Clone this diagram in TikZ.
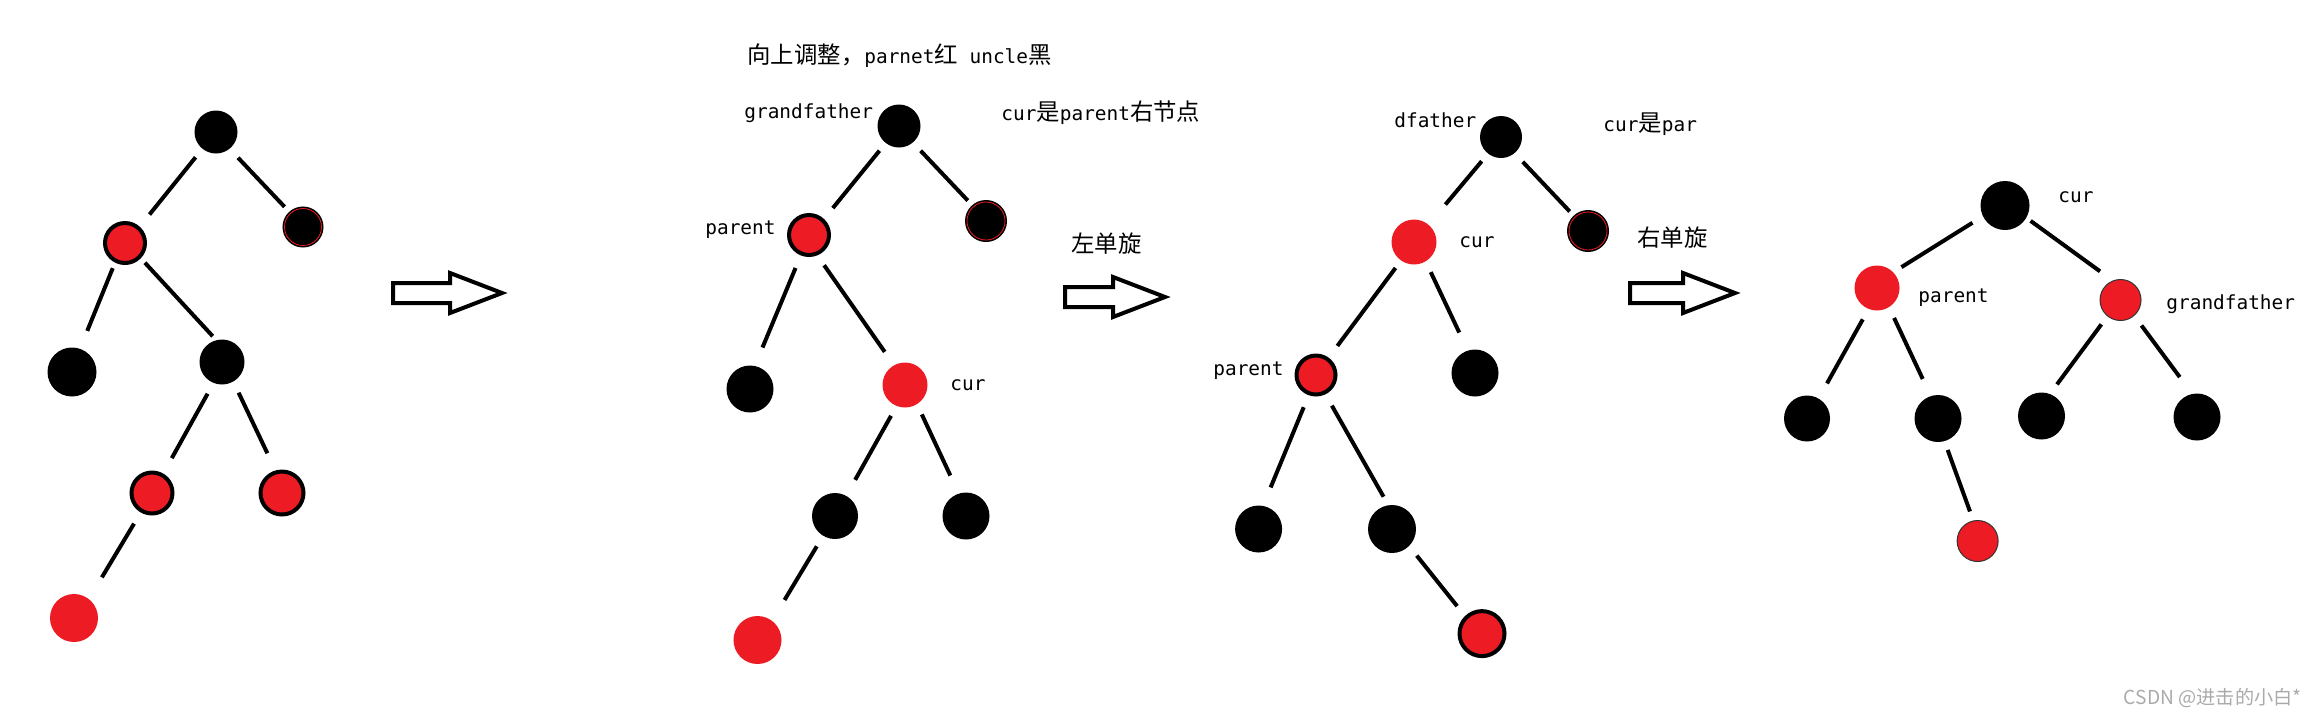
\documentclass[tikz,border=0pt]{standalone}
\usepackage{fontspec}
\usepackage{tikz}
\newfontfamily\cjkfont{Noto Sans CJK SC}
\newfontfamily\latfont[Scale=0.83]{DejaVu Sans Mono}
\definecolor{paintred}{RGB}{237,28,36}
\definecolor{markgray}{RGB}{170,170,170}

\begin{document}
\begin{tikzpicture}[x=0.5pt,y=-0.5pt,
	blk/.style={circle,fill=black,inner sep=0pt,minimum size=22pt},
	rd/.style={circle,fill=paintred,inner sep=0pt,minimum size=23pt},
	rdring/.style={circle,fill=paintred,draw=black,line width=2pt,inner sep=0pt,minimum size=20.5pt},
	rdthin/.style={circle,fill=paintred,draw=black!80,line width=0.5pt,inner sep=0pt,minimum size=20.5pt},
	blkring/.style={circle,fill=black,draw=black,line width=0.8pt,double=paintred,double distance=0.4pt,inner sep=0pt,minimum size=18.5pt},
	branch/.style={line width=2pt},
	lbl/.style={font=\latfont\fontsize{11.7}{14}\selectfont,inner sep=0pt,anchor=mid west},
	zhlbl/.style={font=\cjkfont\fontsize{11.7}{14}\selectfont,inner sep=0pt,anchor=west},
	bigarrow/.style={draw=black,line width=2pt,line join=miter,fill=white}
	]
	\useasboundingbox (0,0) rectangle (2316,719);

	\node (r1) [blk,minimum size=21.5pt] at (216,132) {};
	\node (a1) [rdring,minimum size=20pt] at (125,243) {};
	\node (u1) [blkring] at (303,227) {};
	\node (l1) [blk,minimum size=24.5pt] at (72,372) {};
	\node (m1) [blk,minimum size=22.5pt] at (222,362) {};
	\node (b1) [rdring] at (152,493) {};
	\node (c1) [rdring,minimum size=21.5pt] at (282,493) {};
	\node (d1) [rd,minimum size=24pt] at (74,618) {};
	\foreach \u/\a/\v/\b/\s/\t in {r1/-129/a1/48/5.3pt/7.8pt, r1/-51/u1/132/6pt/4pt,
		a1/-117/l1/71/3pt/9.5pt, a1/-44/m1/105/3pt/2.5pt, m1/-112/b1/60/6pt/8.8pt,
		m1/-60/c1/106/6pt/9.5pt, b1/-120/d1/52/6.5pt/12.5pt}
		\draw[branch,shorten <=\s,shorten >=\t] (\u.\a) -- (\v.\b);

	\node (t0) [lbl] at (747,59) {{\cjkfont 向上调整，}parnet{\cjkfont 红} uncle{\cjkfont 黑}};
	\node (r2) [blk,minimum size=21.5pt] at (899,126) {};
	\node (t1) [lbl] at (744,114) {grandfather};
	\node (t2) [lbl] at (1001,116) {cur{\cjkfont 是}parent{\cjkfont 右节点}};
	\node (p2) [rdring,minimum size=20pt] at (809,235) {};
	\node (t3) [lbl] at (705,230) {parent};
	\node (u2) [blkring,minimum size=19pt] at (986,221) {};
	\node (l2) [blk,minimum size=23.5pt] at (750,389) {};
	\node (c2) [rd,minimum size=22.5pt] at (905,385) {};
	\node (t4) [lbl] at (950,386) {cur};
	\node (x2) [blk,minimum size=23pt] at (835,516) {};
	\node (y2) [blk,minimum size=23.5pt] at (966,516) {};
	\node (d2) [rd,minimum size=24pt] at (757.5,640) {};
	\foreach \u/\a/\v/\b/\s/\t in {r2/-128/p2/47/4.8pt/7pt, r2/-50/u2/131/5.5pt/3.8pt,
		p2/-112/l2/78/6.8pt/9.8pt, p2/-68/c2/119/6pt/8pt, c2/-112/x2/61/5.5pt/9pt,
		c2/-58/y2/108/5.5pt/9.8pt, x2/-121/d2/53/6pt/12pt}
		\draw[branch,shorten <=\s,shorten >=\t] (\u.\a) -- (\v.\b);
	\node (t5) [zhlbl] at (1071,244) {左单旋};

	\node (r3) [blk,minimum size=21pt] at (1501,137) {};
	\node (t6) [lbl] at (1394,123.5) {dfather};
	\node (t7) [lbl] at (1603,127) {cur{\cjkfont 是}par};
	\node (c3) [rd,minimum size=22.5pt] at (1414,242) {};
	\node (t8) [lbl] at (1459,243) {cur};
	\node (u3) [blkring,minimum size=19pt] at (1588,231) {};
	\node (p3) [rdring,minimum size=19.5pt] at (1316,375) {};
	\node (t9) [lbl] at (1213,371) {parent};
	\node (k3) [blk,minimum size=23.5pt] at (1475,373) {};
	\node (l3) [blk,minimum size=23.5pt] at (1258.6,529) {};
	\node (m3) [blk,minimum size=24pt] at (1392,529) {};
	\node (d3) [rdring,minimum size=22.5pt] at (1482,633.6) {};
	\foreach \u/\a/\v/\b/\s/\t in {r3/-128/c3/50/4.8pt/13pt, r3/-50/u3/133/5.8pt/3.5pt,
		c3/-125/p3/54/4.5pt/7.3pt, c3/-59/k3/108/5.8pt/9.8pt, p3/-110/l3/79/6.5pt/9.8pt,
		p3/-64/m3/99/6.5pt/4.7pt, m3/-45/d3/134/6pt/6.3pt}
		\draw[branch,shorten <=\s,shorten >=\t] (\u.\a) -- (\v.\b);
	\node (t10) [zhlbl] at (1637,238) {右单旋};

	\node (r4) [blk,minimum size=24.5pt] at (2005,205.5) {};
	\node (t11) [lbl] at (2058,198) {cur};
	\node (p4) [rd,minimum size=22.5pt] at (1877,288) {};
	\node (t12) [lbl] at (1918,298) {parent};
	\node (g4) [rdthin] at (2120.5,300) {};
	\node (t13) [lbl] at (2166,305) {grandfather};
	\node (e1) [blk,minimum size=23pt] at (1807,418.5) {};
	\node (e2) [blk,minimum size=23.5pt] at (1938,418.5) {};
	\node (e3) [blk,minimum size=23.5pt] at (2041.5,416) {};
	\node (e4) [blk,minimum size=23.5pt] at (2197,417) {};
	\node (d4) [rdthin] at (1977.6,541) {};
	\foreach \u/\a/\v/\b/\s/\t in {r4/-154/p4/44/6pt/4.7pt, r4/-30/g4/112/2.5pt/7.8pt,
		p4/-112/e1/60/5.8pt/8.5pt, p4/-58/e2/108/5.8pt/9.3pt, g4/-129/e3/69/5pt/5.8pt,
		g4/-49/e4/102/6pt/10.3pt, e2/-74/d4/102/4.5pt/4.8pt}
		\draw[branch,shorten <=\s,shorten >=\t] (\u.\a) -- (\v.\b);

	\foreach \x/\y/\l in {393/293/109, 1065/297/100, 1630/293/105}
		\draw[bigarrow] (\x,\y-10) -- ({\x+\l-52},\y-10) -- ({\x+\l-52},\y-20) -- ({\x+\l},\y)
			-- ({\x+\l-52},\y+20) -- ({\x+\l-52},\y+10) -- (\x,\y+10) -- cycle;

	\node (wm) [font=\cjkfont\fontsize{9.6}{11}\selectfont,text=markgray,inner sep=0pt,anchor=mid east] at (2302,700) {CSDN @进击的小白*};
\end{tikzpicture}
\end{document}
